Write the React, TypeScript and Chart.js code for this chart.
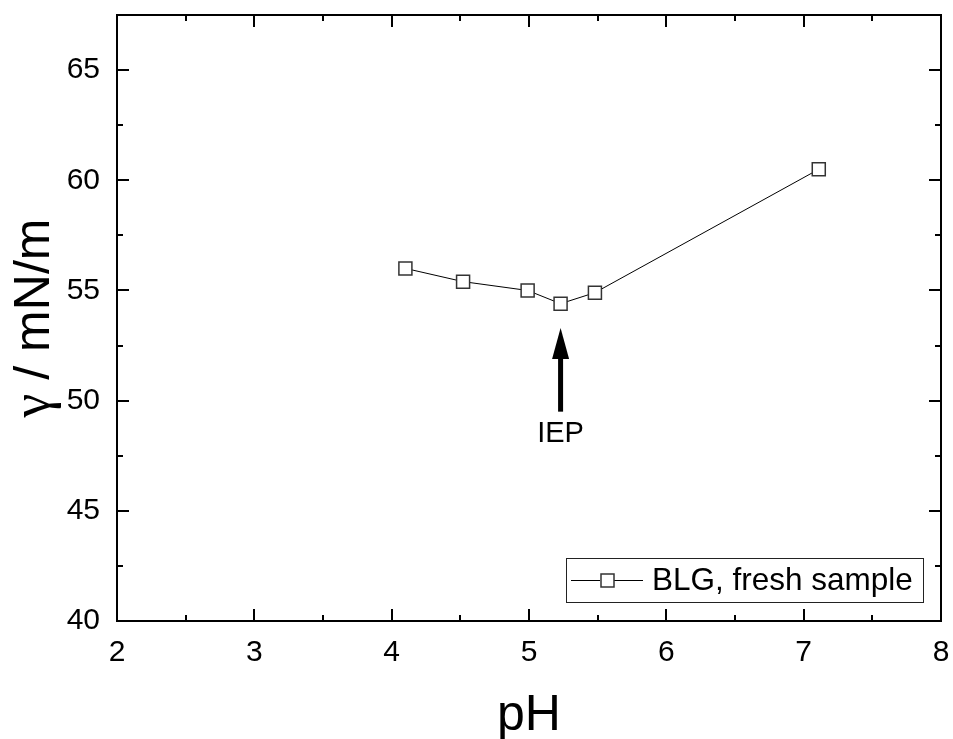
import React, { useEffect, useRef } from "react";
import { Chart, registerables } from "chart.js";

Chart.register(...registerables);

const seriesLabel = "BLG, fresh sample";
const phValues = [4.1, 4.52, 4.99, 5.23, 5.48, 7.11];
const gammaValues = [56.0, 55.4, 55.0, 54.4, 54.9, 60.5];
const xTicks = [2, 3, 4, 5, 6, 7, 8];
const yTicks = [40, 45, 50, 55, 60, 65];
const xMinorTicks = [2.5, 3.5, 4.5, 5.5, 6.5, 7.5];
const yMinorTicks = [42.5, 47.5, 52.5, 57.5, 62.5, 67.5];
const xTitle = "pH";
const yTitleSymbol = "γ";
const yTitleRest = " / mN/m";
const annotationText = "IEP";
const annotationX = 5.23;
const arrowTipY = 53.3;
const arrowBaseY = 49.5;

const FONT = '"Liberation Sans", Arial, sans-serif';
const SYMBOL_FONT = '"Liberation Serif", "Times New Roman", serif';

const framePlugin = {
  id: "frame",
  afterDraw(chart: any) {
    const { ctx, chartArea: a, scales } = chart;
    const xs = scales.x;
    const ys = scales.y;
    ctx.save();
    ctx.strokeStyle = "#000";
    ctx.lineWidth = 2;
    ctx.lineCap = "butt";
    ctx.strokeRect(a.left, a.top, a.right - a.left, a.bottom - a.top);
    const major = 12;
    const minor = 6;
    ctx.beginPath();
    const xt = (v: number, len: number) => {
      const px = Math.round(xs.getPixelForValue(v));
      ctx.moveTo(px, a.bottom);
      ctx.lineTo(px, a.bottom - len);
      ctx.moveTo(px, a.top);
      ctx.lineTo(px, a.top + len);
    };
    const yt = (v: number, len: number) => {
      const py = Math.round(ys.getPixelForValue(v));
      ctx.moveTo(a.left, py);
      ctx.lineTo(a.left + len, py);
      ctx.moveTo(a.right, py);
      ctx.lineTo(a.right - len, py);
    };
    xTicks.forEach((v) => xt(v, major));
    xMinorTicks.forEach((v) => xt(v, minor));
    yTicks.forEach((v) => yt(v, major));
    yMinorTicks.forEach((v) => yt(v, minor));
    ctx.stroke();

    // Titles
    ctx.fillStyle = "#000";
    ctx.font = `50px ${FONT}`;
    ctx.textAlign = "center";
    ctx.textBaseline = "alphabetic";
    ctx.fillText(xTitle, (a.left + a.right) / 2, 730);

    ctx.save();
    ctx.translate(49, (a.top + a.bottom) / 2);
    ctx.rotate(-Math.PI / 2);
    ctx.textAlign = "left";
    ctx.font = `54px ${SYMBOL_FONT}`;
    const gw = ctx.measureText(yTitleSymbol).width;
    ctx.font = `50px ${FONT}`;
    const rw = ctx.measureText(yTitleRest).width;
    const start = -(gw + rw) / 2;
    ctx.font = `54px ${SYMBOL_FONT}`;
    ctx.fillText(yTitleSymbol, start, 0);
    ctx.font = `50px ${FONT}`;
    ctx.fillText(yTitleRest, start + gw, 0);
    ctx.restore();

    // Arrow annotation
    ctx.textAlign = "center";
    const ax = xs.getPixelForValue(annotationX);
    const tip = ys.getPixelForValue(arrowTipY);
    const base = ys.getPixelForValue(arrowBaseY);
    const headLen = 31;
    const headHalf = 8.5;
    ctx.beginPath();
    ctx.moveTo(ax, tip);
    ctx.lineTo(ax + headHalf, tip + headLen);
    ctx.lineTo(ax - headHalf, tip + headLen);
    ctx.closePath();
    ctx.fill();
    ctx.fillRect(ax - 2.5, tip + headLen - 1, 5, base - tip - headLen + 1);
    ctx.font = `29px ${FONT}`;
    ctx.textBaseline = "alphabetic";
    ctx.fillText(annotationText, ax, base + 30);

    // Legend
    const lx = 566, ly = 558, lw = 357, lh = 44;
    ctx.lineWidth = 1;
    ctx.strokeStyle = "#222";
    ctx.strokeRect(lx + 0.5, ly + 0.5, lw, lh);
    const cy = ly + lh / 2 + 0.5;
    ctx.strokeStyle = "#000";
    ctx.beginPath();
    ctx.moveTo(571, cy);
    ctx.lineTo(600, cy);
    ctx.moveTo(614, cy);
    ctx.lineTo(643, cy);
    ctx.stroke();
    ctx.strokeStyle = "#333";
    ctx.lineWidth = 1.5;
    ctx.strokeRect(601, cy - 6.5, 13, 13);
    ctx.font = `31.5px ${FONT}`;
    ctx.textAlign = "left";
    ctx.textBaseline = "middle";
    ctx.fillText(chart.data.datasets[0].label, 652, cy + 1);
    ctx.restore();
  },
};

const zeroPad = (s: any) => {
  s.paddingTop = 0;
  s.paddingBottom = 0;
  s.paddingLeft = 0;
  s.paddingRight = 0;
};

export default function App() {
  const ref = useRef<HTMLCanvasElement | null>(null);
  useEffect(() => {
    if (!ref.current) return;
    const chart = new Chart(ref.current, {
      type: "scatter",
      data: {
        datasets: [
          {
            label: seriesLabel,
            data: phValues.map((x, i) => ({ x, y: gammaValues[i] })),
            showLine: true,
            borderColor: "#000",
            borderWidth: 1,
            pointStyle: "rect",
            pointRadius: 9.2,
            pointHoverRadius: 9.2,
            pointBorderWidth: 1.5,
            pointBorderColor: "#333",
            pointBackgroundColor: "#fff",
            tension: 0,
          },
        ],
      },
      options: {
        animation: false,
        responsive: false,
        events: [],
        layout: { padding: { left: 0, top: 15, right: 12, bottom: 0 } },
        plugins: { legend: { display: false }, tooltip: { enabled: false } },
        scales: {
          x: {
            type: "linear",
            min: 2,
            max: 8,
            grid: { display: false },
            border: { display: false },
            afterBuildTicks: (s: any) => {
              s.ticks = xTicks.map((v) => ({ value: v }));
            },
            afterFit: (s: any) => {
              s.height = 118;
              zeroPad(s);
            },
            ticks: {
              padding: 6,
              color: "#000",
              font: { family: FONT, size: 30 },
            },
          },
          y: {
            type: "linear",
            min: 40,
            max: 67.5,
            grid: { display: false },
            border: { display: false },
            afterBuildTicks: (s: any) => {
              s.ticks = yTicks.map((v) => ({ value: v }));
            },
            afterFit: (s: any) => {
              s.width = 117;
              zeroPad(s);
            },
            ticks: {
              padding: 9,
              color: "#000",
              font: { family: FONT, size: 30 },
            },
          },
        },
      },
      plugins: [framePlugin],
    } as any);
    return () => chart.destroy();
  }, []);
  return (
    <div style={{ position: "fixed", left: 0, top: 0, width: 953, height: 739, background: "#fff" }}>
      <canvas ref={ref} width={953} height={739} style={{ width: 953, height: 739 }} />
    </div>
  );
}
